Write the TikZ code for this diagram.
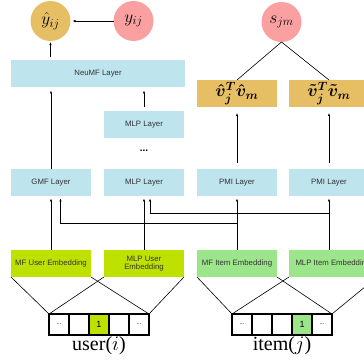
\documentclass[tikz,border=0pt]{standalone}
\usepackage{amsmath,bm}
\usepackage{fontspec}
\setmainfont{Liberation Serif}
\setsansfont{Liberation Sans}
\usetikzlibrary{arrows.meta,calc}

\definecolor{goldbox}{RGB}{230,190,100}
\definecolor{pinkcirc}{RGB}{250,160,160}
\definecolor{layerblue}{RGB}{190,228,238}
\definecolor{userlime}{RGB}{190,225,0}
\definecolor{itemgreen}{RGB}{157,229,138}

\tikzset{
  layer/.style={fill=layerblue, minimum width=80pt, minimum height=27pt, inner sep=0pt, outer sep=0pt, font=\sffamily\fontsize{7.8}{8.5}\selectfont, text=black!80},
  embed/.style={layer, align=center},
  vbox/.style={fill=goldbox, minimum width=80pt, minimum height=27pt, inner sep=0pt, outer sep=0pt, font=\fontsize{17}{19}\selectfont\boldmath},
  circ/.style={circle, minimum size=40pt, inner sep=0pt, outer sep=0pt, font=\fontsize{18}{20}\selectfont},
  cell/.style={draw, line width=1.2pt, minimum width=20pt, minimum height=21pt, inner sep=0pt, outer sep=0pt, font=\sffamily\fontsize{9}{10}\selectfont},
  arr/.style={-{Latex[length=3pt,width=2.4pt]}, line width=0.6pt},
  fan/.style={line width=0.6pt}
}

\newcommand{\celldots}{{\fontsize{6}{6}\selectfont ...}}

\begin{document}
\begin{tikzpicture}[x=1pt,y=-1pt]
\useasboundingbox (0,0) rectangle (364,363);
\clip (0,0) rectangle (364,363);

% outputs
\node[circ, fill=goldbox] (yhat) at (50.5,21) {$\hat{y}_{ij}$};
\node[circ, fill=pinkcirc] (ytrue) at (133.5,21) {$y_{ij}$};
\node[circ, fill=pinkcirc, font=\fontsize{17}{19}\selectfont] (sjm) at (281.5,22) {$s_{jm}$};

% layers
\node[layer, minimum width=174pt] (neumf) at (98,74) {NeuMF Layer};
\node[layer] (mlptop) at (144,125) {MLP Layer};
\node[font=\sffamily\bfseries\fontsize{10}{10}\selectfont] (dots) at (144,151) {...};
\node[layer] (gmf) at (51,183) {GMF Layer};
\node[layer] (mlp) at (144,183) {MLP Layer};
\node[layer] (pmiA) at (237,183) {PMI Layer};
\node[layer] (pmiB) at (329,183) {PMI Layer};

\node[vbox] (vA) at (237,93.5) {$\hat{v}_j^T\hat{v}_m$};
\node[vbox] (vB) at (329,93.5) {$\tilde{v}_j^T\tilde{v}_m$};

% embeddings
\node[embed, fill=userlime] (mfu) at (51,263.5) {MF User Embedding};
\node[embed, fill=userlime] (mlpu) at (144,263.5) {MLP User\\Embedding};
\node[embed, fill=itemgreen] (mfi) at (237,263.5) {MF Item Embedding};
\node[embed, fill=itemgreen, minimum width=88pt] (mlpi) at (333,263.5) {MLP Item Embedding};

% one-hot vectors
\foreach \n/\t/\c in {1/\celldots/white, 2/{}/white, 3/1/userlime, 4/{}/white, 5/\celldots/white}
  \node[cell, fill=\c] (u\n) at (39+20*\n,324.5) {\t};
\foreach \n/\t/\c in {1/\celldots/white, 2/{}/white, 3/{}/white, 4/1/itemgreen, 5/\celldots/white}
  \node[cell, fill=\c] (i\n) at (222+20*\n,324.5) {\t};

\node[font=\fontsize{20}{22}\selectfont] (ulab) at (99,346) {user($i$)};
\node[font=\fontsize{20}{22}\selectfont] (ilab) at (282,346) {item($j$)};

% fans to the vectors
\draw[fan] (mfu.south west) -- (u1.north west);
\draw[fan] (mfu.south east) -- (u5.north east);
\draw[fan] (mlpu.south west) -- (u1.north west);
\draw[fan] (mlpu.south east) -- (u5.north east);
\draw[fan] (mfi.south west) -- (i1.north west);
\draw[fan] (mfi.south east) -- (i5.north east);
\draw[fan] (mlpi.south west) -- (i1.north west);
\draw[fan] (mlpi.south east) -- (i5.north east);

% upward arrows
\draw[arr, shorten >=2pt] (ytrue) -- (yhat);
\draw[arr, shorten <=3pt, shorten >=1pt] (neumf.north -| yhat.south) -- (yhat.south);
\draw[arr, shorten >=3pt] (gmf.north) -- (gmf.north |- neumf.south);
\draw[arr, shorten <=4pt, shorten >=3pt] (mlptop.north) -- (mlptop.north |- neumf.south);
\draw[fan] (sjm.south) -- (vA.north);
\draw[fan] (sjm.south) -- (vB.north);
\draw[arr, shorten <=6pt, shorten >=6pt] (pmiA.north) -- (vA.south);
\draw[arr, shorten <=6pt, shorten >=6pt] (pmiB.north) -- (vB.south);

\draw[arr, shorten >=2pt] (mfu.north) -- (gmf.south);
\draw[arr, shorten >=2pt] (mlpu.north) -- (mlp.south);
\draw[arr, shorten >=2pt] (mfi.north) -- (pmiA.south);
\draw[arr, shorten >=2pt] (mlpi.north -| pmiB.south) -- (pmiB.south);

% cross links
\coordinate (jA) at ($(mfi.north)+(0,-27)$);
\coordinate (jB) at ($(mlpi.north -| pmiB.south)+(0,-37)$);
\draw[arr, shorten >=2pt] (jA) -| ($(gmf.south)+(9.5,0)$);
\draw[arr, shorten >=2pt] (jB) -| ($(mlp.south)+(6,0)$);
\end{tikzpicture}
\end{document}
